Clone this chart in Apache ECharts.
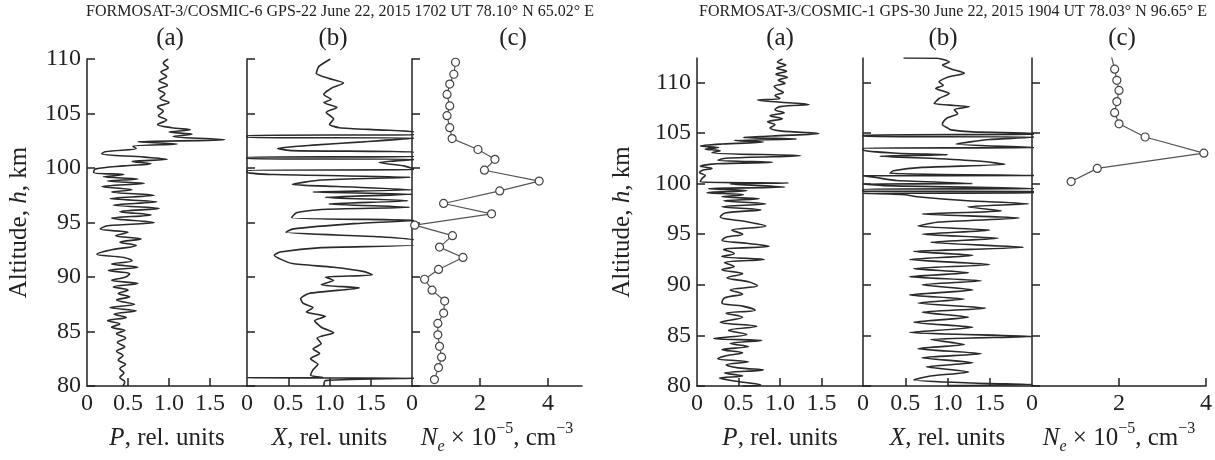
<!DOCTYPE html>
<html>
<head>
<meta charset="utf-8">
<script src="https://cdn.jsdelivr.net/npm/echarts@6/dist/echarts.min.js"></script>
<style>html,body{margin:0;padding:0;background:#fff}#c{width:1215px;height:460px}</style>
</head>
<body>
<div id="c"></div>
<script>
// ---------- DATA ----------
const titleLeft = 'FORMOSAT-3/COSMIC-6 GPS-22 June 22, 2015 1702 UT 78.10° N 65.02° E';
const titleRight = 'FORMOSAT-3/COSMIC-1 GPS-30 June 22, 2015 1904 UT 78.03° N 96.65° E';
const panelLetters = ['(a)', '(b)', '(c)'];
const altTicks = [80, 85, 90, 95, 100, 105, 110];
const relTicks = [0, 0.5, 1, 1.5];
const neTicks = [0, 2, 4];

// [value, altitude km]
const leftP = [[0.99,110.0],[0.93,109.6],[0.99,109.2],[0.90,108.8],[0.97,108.4],[0.88,108.0],[0.98,107.6],[0.87,107.2],[0.95,106.8],[0.89,106.4],[1.00,106.0],[0.86,105.6],[0.93,105.2],[0.87,104.8],[0.97,104.4],[0.86,104.0],[1.03,103.7],[1.26,103.5],[1.0,103.3],[1.28,103.1],[1.05,102.9],[1.68,102.6],[0.62,102.4],[1.10,102.2],[0.56,102.0],[0.60,101.8],[0.22,101.5],[0.18,101.3],[0.70,101.0],[0.98,100.8],[0.55,100.6],[0.78,100.4],[0.45,100.2],[0.10,99.9],[0.08,99.6],[0.45,99.4],[0.20,99.2],[0.62,99.0],[0.25,98.8],[0.70,98.6],[0.18,98.3],[0.55,98.0],[0.30,97.8],[0.82,97.5],[0.28,97.2],[0.85,96.9],[0.32,96.6],[0.88,96.3],[0.40,96.0],[0.78,95.7],[0.30,95.4],[0.82,95.0],[0.25,94.7],[0.16,94.4],[0.50,94.1],[0.35,93.8],[0.66,93.5],[0.40,93.2],[0.60,92.9],[0.30,92.5],[0.12,92.1],[0.45,91.8],[0.55,91.5],[0.30,91.2],[0.62,90.9],[0.26,90.6],[0.52,90.3],[0.47,90.0],[0.30,89.7],[0.62,89.4],[0.32,89.1],[0.50,88.8],[0.38,88.5],[0.52,88.2],[0.36,87.9],[0.58,87.5],[0.28,87.2],[0.60,86.9],[0.33,86.6],[0.48,86.3],[0.25,86.0],[0.40,85.7],[0.30,85.4],[0.46,85.1],[0.36,84.8],[0.47,84.4],[0.37,84.0],[0.46,83.6],[0.36,83.2],[0.44,82.8],[0.38,82.4],[0.47,82.0],[0.40,81.6],[0.45,81.2],[0.40,80.8],[0.46,80.4],[0.44,80.0]];

const leftX = [[1.01,110.0],[0.87,109.3],[0.84,108.7],[1.0,108.2],[1.17,107.8],[1.03,107.35],[0.93,106.75],[1.02,106.3],[0.93,106.0],[1.09,105.55],[0.96,105.1],[1.05,104.5],[1.0,104.0],[1.12,103.7],[1.6,103.5],[2.05,103.3],[2.05,103.05],[0.0,103.0],[0.0,102.8],[2.05,102.75],[1.4,102.4],[0.8,102.1],[0.37,101.8],[0.55,101.6],[2.05,101.45],[2.05,101.05],[0.0,101.0],[0.0,100.85],[2.05,100.8],[1.6,100.5],[1.9,100.2],[2.05,99.85],[0.0,99.8],[0.0,99.6],[0.33,99.4],[1.98,99.15],[0.9,98.9],[0.55,98.5],[1.1,98.3],[2.0,98.0],[0.8,97.8],[2.0,97.6],[0.95,97.3],[1.95,97.0],[0.99,96.7],[1.97,96.4],[0.9,96.2],[0.6,95.9],[0.54,95.45],[2.05,95.2],[1.3,94.9],[0.55,94.4],[0.47,94.1],[1.6,93.7],[2.05,93.35],[2.05,92.95],[0.9,92.7],[0.4,92.3],[0.33,92.0],[0.42,91.6],[0.55,91.24],[1.05,90.9],[1.42,90.5],[1.52,90.2],[0.95,90.0],[1.05,89.7],[0.9,89.3],[1.36,89.0],[0.75,88.5],[0.65,88.0],[0.68,87.6],[0.8,87.2],[0.72,86.8],[0.95,86.4],[0.82,86.0],[0.9,85.4],[1.05,84.9],[0.85,84.4],[0.9,83.9],[0.8,83.4],[0.88,83.0],[0.77,82.5],[0.86,82.0],[0.8,81.5],[0.77,81.0],[0.92,80.8],[0.0,80.76],[2.05,80.72],[0.95,80.5],[0.93,80.0]];

const leftNe = [[1.28,109.7],[1.23,108.6],[1.11,107.7],[1.03,106.75],[1.11,105.7],[1.03,104.8],[1.11,103.7],[1.18,102.7],[1.94,101.7],[2.44,100.8],[2.13,99.8],[3.74,98.8],[2.58,97.9],[0.93,96.75],[2.34,95.8],[0.08,94.76],[1.19,93.8],[0.81,92.75],[1.5,91.8],[0.78,90.7],[0.37,89.8],[0.59,88.8],[0.96,87.8],[0.93,86.7],[0.76,85.75],[0.76,84.7],[0.81,83.65],[0.87,82.65],[0.78,81.7],[0.66,80.6]];

const rightP = [[1.03,112.3],[0.97,112.0],[1.07,111.7],[0.96,111.4],[1.08,111.1],[0.95,110.8],[1.09,110.5],[0.98,110.2],[1.06,109.9],[0.93,109.6],[0.97,109.3],[1.04,109.0],[0.94,108.7],[1.0,108.4],[0.73,108.25],[0.98,108.05],[1.35,107.8],[1.0,107.6],[0.94,107.3],[1.05,107.0],[0.88,106.7],[1.03,106.4],[0.85,106.1],[0.94,105.8],[0.88,105.5],[1.0,105.2],[1.47,104.95],[0.9,104.7],[0.56,104.55],[1.2,104.4],[0.45,104.25],[0.8,104.1],[0.3,103.9],[0.04,103.7],[0.26,103.55],[0.1,103.4],[0.28,103.25],[0.18,103.05],[1.25,102.75],[0.35,102.5],[0.25,102.3],[0.91,102.1],[0.24,101.95],[0.04,101.7],[0.18,101.5],[0.06,101.3],[0.03,101.1],[0.1,100.8],[0.06,100.5],[0.04,100.15],[1.1,100.05],[0.4,99.95],[1.06,99.65],[0.14,99.5],[0.6,99.3],[0.12,99.1],[0.56,98.9],[0.3,98.7],[0.75,98.5],[0.32,98.3],[0.83,98.0],[0.3,97.7],[0.77,97.4],[0.34,97.1],[0.28,96.7],[0.55,96.3],[0.83,95.8],[0.42,95.4],[0.55,95.0],[0.35,94.7],[0.3,94.4],[0.6,94.1],[0.87,93.8],[0.32,93.5],[0.45,93.1],[0.3,92.8],[0.81,92.5],[0.33,92.2],[0.45,91.8],[0.3,91.5],[0.55,91.1],[0.36,90.7],[0.62,90.3],[0.73,89.9],[0.4,89.5],[0.55,89.1],[0.33,88.7],[0.3,88.2],[0.55,87.9],[0.7,87.5],[0.35,87.2],[0.55,86.8],[0.28,86.3],[0.72,85.9],[0.38,85.5],[0.6,85.1],[0.2,84.7],[0.78,84.5],[0.4,84.2],[0.62,83.9],[0.3,83.6],[0.55,83.3],[0.35,83.0],[0.25,82.7],[0.62,82.4],[0.35,82.1],[0.5,81.8],[0.8,81.6],[0.33,81.3],[0.55,81.0],[0.27,80.8],[0.45,80.5],[0.77,80.1],[0.55,80.0]];

const rightX = [[0.48,112.4],[0.88,112.38],[1.02,112.0],[0.94,111.7],[1.05,111.3],[1.2,110.9],[1.0,110.5],[0.9,110.05],[0.95,109.7],[0.86,109.4],[1.02,108.9],[0.9,108.4],[0.84,107.9],[1.26,107.6],[1.08,107.3],[1.12,106.9],[1.0,106.5],[0.95,106.1],[0.94,105.8],[1.0,105.5],[1.04,105.3],[1.3,105.1],[2.05,104.95],[2.05,104.85],[0.0,104.8],[0.0,104.65],[2.05,104.6],[1.5,104.35],[1.1,103.9],[2.05,103.55],[0.0,103.5],[0.0,103.3],[0.4,103.0],[1.0,102.85],[0.2,102.7],[0.9,102.45],[1.4,102.2],[1.68,101.9],[0.7,101.6],[0.36,101.26],[0.32,101.0],[2.05,100.8],[0.0,100.77],[0.15,100.6],[0.4,100.3],[1.3,100.0],[0.0,99.95],[0.24,99.8],[2.05,99.5],[0.0,99.45],[0.0,99.25],[2.05,99.22],[2.05,99.07],[0.0,99.04],[0.5,98.9],[0.64,98.7],[1.24,98.3],[1.96,98.0],[1.24,97.7],[1.64,97.3],[0.7,97.0],[1.85,96.6],[0.9,96.2],[0.65,95.8],[1.5,95.4],[0.7,95.0],[1.6,94.6],[0.8,94.2],[1.9,93.7],[0.6,93.3],[1.3,92.9],[0.55,92.5],[1.5,92.0],[0.6,91.6],[1.25,91.2],[0.55,90.8],[1.4,90.4],[0.7,90.0],[1.3,89.5],[0.55,89.0],[1.2,88.6],[0.65,88.2],[1.45,87.7],[0.7,87.3],[1.25,86.8],[0.6,86.3],[1.3,85.8],[0.55,85.3],[2.0,84.9],[0.8,84.6],[1.2,84.1],[0.65,83.7],[1.4,83.2],[0.7,82.8],[1.3,82.3],[0.75,81.9],[1.25,81.4],[0.8,81.0],[0.6,80.6],[1.3,80.3],[2.0,80.15],[1.0,80.05]];

const rightNe = [[1.8,113.0],[1.9,111.3],[1.95,110.2],[2.0,109.2],[1.95,108.1],[1.9,107.0],[2.0,105.9],[2.6,104.6],[3.95,103.0],[1.5,101.5],[0.9,100.2]];

// ---------- CHART ----------
const FONT = '"Liberation Serif","DejaVu Serif",serif';
const INK = '#222';
const FS = 24;
const FN = 25;
const chart = echarts.init(document.getElementById('c'), null, {renderer: 'canvas'});

const grids = [
  {left: 87, top: 59, width: 160, height: 332},
  {left: 247, top: 59, width: 165, height: 332},
  {left: 412, top: 59, width: 170, height: 332},
  {left: 697, top: 58, width: 166, height: 333},
  {left: 863, top: 58, width: 169, height: 333},
  {left: 1032, top: 58, width: 176, height: 333}
];

const xMax = [1.95, 2.0, 5, 2.0, 2.0, 4];
const yMax = [110, 110, 110, 112.4, 112.4, 112.4];

function relFmt(v) { return v === 0 ? '0' : v.toFixed(1); }

const xNames = [
  '{i|P}, rel. units', '{i|X}, rel. units', '{i|N}{sub|e} × 10{sup|−5}, cm{sup|−3}'
];
const richName = {
  i: {fontFamily: FONT, fontSize: FN, fontStyle: 'italic', color: INK, lineHeight: 34},
  sub: {fontFamily: FONT, fontSize: 16, fontStyle: 'italic', color: INK, verticalAlign: 'bottom', lineHeight: 14},
  sup: {fontFamily: FONT, fontSize: 16, color: INK, verticalAlign: 'top', lineHeight: 14}
};

const xAxis = grids.map((g, i) => {
  const isNe = (i % 3) === 2;
  const ticks = isNe ? neTicks : relTicks;
  return {
    type: 'value', gridIndex: i, min: 0, max: xMax[i], interval: isNe ? 2 : 0.5,
    position: 'bottom',
    axisLine: {show: true, onZero: false, lineStyle: {color: INK, width: 1.5}},
    axisTick: {show: true, inside: true, length: 8, lineStyle: {color: INK, width: 1.5}, customValues: ticks.filter(t => t > 0)},
    axisLabel: {show: true, margin: 6, fontFamily: FONT, fontSize: FS, color: INK, customValues: ticks,
      formatter: v => isNe ? String(v) : relFmt(v)},
    splitLine: {show: false},
    name: xNames[i % 3], nameLocation: 'middle', nameGap: 32,
    nameTextStyle: {fontFamily: FONT, fontSize: FN, color: INK, lineHeight: 34, rich: richName}
  };
});

const yAxis = grids.map((g, i) => {
  const first = (i % 3) === 0;
  return {
    type: 'value', gridIndex: i, min: 80, max: yMax[i], interval: 5,
    axisLine: {show: true, onZero: false, lineStyle: {color: INK, width: 1.5}},
    axisTick: {show: true, inside: true, length: 8, lineStyle: {color: INK, width: 1.5}, customValues: altTicks},
    axisLabel: {show: first, margin: 6, fontFamily: FONT, fontSize: FS, color: INK, customValues: altTicks},
    splitLine: {show: false},
    name: first ? 'Altitude, {i|h}, km' : '', nameLocation: 'middle', nameGap: i === 0 ? 53 : 60,
    nameTextStyle: {fontFamily: FONT, fontSize: FN, color: INK, lineHeight: 30,
      rich: {i: {fontFamily: FONT, fontSize: FN, fontStyle: 'italic', color: INK, lineHeight: 30}}}
  };
});

function profile(data, idx, smooth) {
  return {type: 'line', xAxisIndex: idx, yAxisIndex: idx, data: data, symbol: 'none', showSymbol: false,
    smooth: smooth, clip: true, lineStyle: {color: '#2a2a2a', width: 1.6}, animation: false};
}
function ne(data, idx) {
  return {type: 'line', xAxisIndex: idx, yAxisIndex: idx, data: data, symbol: 'circle', symbolSize: 8,
    showSymbol: true, clip: true, lineStyle: {color: '#555', width: 1.2},
    itemStyle: {color: '#fff', borderColor: '#444', borderWidth: 1.2}, animation: false};
}

const graphic = [
  {type: 'text', x: 340, y: 12, style: {text: titleLeft, font: '16px ' + FONT, fill: INK, textAlign: 'center', textVerticalAlign: 'middle'}},
  {type: 'text', x: 953, y: 12, style: {text: titleRight, font: '16px ' + FONT, fill: INK, textAlign: 'center', textVerticalAlign: 'middle'}}
];
const letterX = [170, 333, 513, 780, 943, 1122];
letterX.forEach((x, k) => graphic.push({type: 'text', x: x, y: 38,
  style: {text: panelLetters[k % 3], font: FN + 'px ' + FONT, fill: INK, textAlign: 'center', textVerticalAlign: 'middle'}}));

chart.setOption({
  animation: false,
  backgroundColor: '#fff',
  grid: grids,
  xAxis: xAxis,
  yAxis: yAxis,
  graphic: graphic,
  series: [
    profile(leftP, 0, 0.35), profile(leftX, 1, 0.2), ne(leftNe, 2),
    profile(rightP, 3, 0.35), profile(rightX, 4, 0.2), ne(rightNe, 5)
  ]
});
</script>
</body>
</html>
